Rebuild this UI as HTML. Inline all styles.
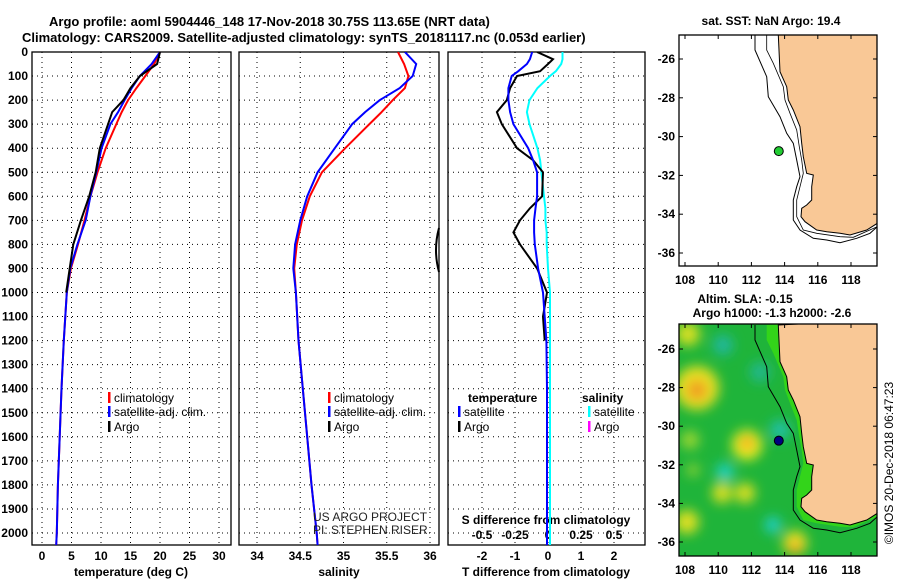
<!DOCTYPE html>
<html><head><meta charset="utf-8"><style>
html,body{margin:0;padding:0;background:#fff;}
svg{display:block;font-family:"Liberation Sans",sans-serif;}
.b{font-weight:bold;font-size:13px;}
.t{font-weight:bold;font-size:12px;}
</style></head><body>
<svg id="chart" width="900" height="580" viewBox="0 0 900 580">
<defs>
<filter id="blur" x="-50%" y="-50%" width="200%" height="200%"><feGaussianBlur stdDeviation="6"/></filter>
<clipPath id="m2clip"><rect x="679" y="324" width="198" height="232"/></clipPath>
<clipPath id="m1clip"><rect x="679" y="35" width="198" height="231"/></clipPath>
<clipPath id="p1"><rect x="32" y="52" width="199" height="493"/></clipPath>
<clipPath id="p2"><rect x="239" y="52" width="200" height="493"/></clipPath>
<clipPath id="p3"><rect x="448" y="52" width="197" height="493"/></clipPath>
</defs>
<text class="b" x="49" y="26">Argo profile: aoml 5904446_148 17-Nov-2018 30.75S 113.65E (NRT data)</text>
<text class="b" x="22" y="42">Climatology: CARS2009. Satellite-adjusted climatology: synTS_20181117.nc (0.053d earlier)</text>
<g id="g"></g>
</svg>
<script>
// ---- data ----
const pLev = [0,50,100,150,200,250,300,400,500,600,700,800,900,1000,1200,1400,1600,1800,2000,2050];
const tClim = [20,19,17.5,16,14.6,13.5,12.6,10.8,9.4,8.2,7.2,6.1,4.9,4.2,3.7,3.3,3.0,2.7,2.5,2.4];
const tSat  = [20,18.6,16.6,15.2,14,12.9,11.6,10.1,9.2,8.2,7.4,6.0,4.8,4.2,3.7,3.3,3.0,2.7,2.5,2.4];
const tArgo = [20,19.5,16.6,15,13.8,11.9,11.2,9.8,9.1,8.0,6.6,5.3,4.7,4.1,3.6,3.3,3.0,2.7,2.5,2.4];
const sClim = [35.63,35.7,35.75,35.71,35.57,35.44,35.3,35.02,34.75,34.61,34.52,34.46,34.43,34.45,34.48,34.53,34.58,34.63,34.69,34.7];
const sSat  = [35.71,35.84,35.8,35.65,35.42,35.25,35.1,34.9,34.7,34.58,34.5,34.44,34.42,34.45,34.48,34.53,34.58,34.63,34.69,34.7];
const dLev  = [0,30,50,80,100,150,200,250,300,400,450,500,600,650,700,750,800,900,1000,1100,1200,1400,1600,1800,2000,2050];
const dTArgo= [-0.33,0.15,0,-0.24,-0.94,-1.15,-1.25,-1.55,-1.4,-0.94,-0.45,-0.15,-0.18,-0.55,-0.85,-1.05,-0.85,-0.33,-0.03,-0.15,-0.1,-0.05,-0.05,-0.05,-0.05,-0.05];
const dTSat = [-0.48,-0.55,-0.64,-0.9,-1.1,-1.2,-1.2,-1.15,-1.05,-0.6,-0.45,-0.33,-0.33,-0.38,-0.42,-0.42,-0.4,-0.3,-0.15,-0.1,-0.05,-0.03,-0.03,-0.03,-0.03,-0.03];
const dSSat = [0.11,0.11,0.1,0.06,0.015,-0.08,-0.14,-0.16,-0.14,-0.08,-0.06,-0.05,-0.03,-0.02,-0.02,-0.01,-0.01,0,0.015,0.015,0.015,0.015,0.015,0.015,0.015,0.015];
const pTicks = [0,100,200,300,400,500,600,700,800,900,1000,1100,1200,1300,1400,1500,1600,1700,1800,1900,2000];
const tTicks = [0,5,10,15,20,25,30];
const sTicks = [34,34.5,35,35.5,36];
const dTTicks = [-2,-1,0,1,2];
const dSTicks = ['-0.5','-0.25','0','0.25','0.5'];
const latTicks = [-26,-28,-30,-32,-34,-36];
const lonTicks = [108,110,112,114,116,118];
const argoLon = 113.65, argoLat = -30.75;

const NS='http://www.w3.org/2000/svg';
const G=document.getElementById('g');
function el(tag,attrs,parent){const e=document.createElementNS(NS,tag);for(const k in attrs)e.setAttribute(k,attrs[k]);(parent||G).appendChild(e);return e;}
function txt(x,y,s,cls,anchor,parent){const e=el('text',{x:x,y:y,class:cls||'t','text-anchor':anchor||'middle'},parent);e.textContent=s;return e;}
const yP=p=>52+p*0.2405;
const xT=t=>42+t*5.9;
const xS=s=>257+(s-34)*86.5;
const xDT=d=>548+d*33;
const xDS=d=>548+d*132;
const xLon=l=>685+(l-108)*16.6;
const yLat1=l=>59+(-26-l)*19.4;
const yLat2=l=>349+(-26-l)*19.3;

function frame(x,y,w,h,name){const r=el('rect',{x:x,y:y,width:w,height:h,fill:'none',stroke:'#000','stroke-width':1.3});

}
function vgrid(x,name){const l=el('line',{x1:x,x2:x,y1:52,y2:545,stroke:'#000','stroke-width':1,'stroke-dasharray':'1,4'});

}
function hgrid(x1,x2){pTicks.forEach(p=>{const l=el('line',{x1:x1,x2:x2,y1:yP(p),y2:yP(p),stroke:'#000','stroke-width':1,'stroke-dasharray':'1,4'});

});}
function line(xs,ps,fx,color,name,clip){const d=xs.map((v,i)=>(i?'L':'M')+fx(v).toFixed(1)+','+yP(ps[i]).toFixed(1)).join('');
const e=el('path',{d:d,fill:'none',stroke:color,'stroke-width':2,'clip-path':'url(#'+clip+')'});

}

hgrid(32,231);hgrid(239,439);hgrid(448,645);
tTicks.forEach(t=>vgrid(xT(t),'temperature-gridline'));
sTicks.forEach(s=>vgrid(xS(s),'salinity-gridline'));
dTTicks.forEach(t=>vgrid(xDT(t),'tdiff-gridline'));
frame(32,52,199,493,'temperature-panel');frame(239,52,200,493,'salinity-panel');frame(448,52,197,493,'difference-panel');
pTicks.forEach(p=>{const e=txt(28,yP(p)+4,String(p),'t','end');

});
tTicks.forEach(t=>{const e=txt(xT(t),560,String(t),'t');

});
sTicks.forEach(s=>{const e=txt(xS(s),560,String(s),'t');

});
dTTicks.forEach(t=>{const e=txt(xDT(t),560,String(t),'t');

});
dSTicks.forEach(s=>{const e=txt(xDS(parseFloat(s)),539,s,'t');

});
let e;
e=txt(131,576,'temperature (deg C)');
e=txt(339,576,'salinity');
e=txt(546,576,'T difference from climatology');
e=txt(546,524,'S difference from climatology');

line(tClim,pLev,xT,'#f00','temperature-climatology','p1');
line(tSat,pLev,xT,'#00f','temperature-satellite','p1');
line(tArgo.slice(0,14),pLev.slice(0,14),xT,'#000','temperature-argo','p1');
line(sClim,pLev,xS,'#f00','salinity-climatology','p2');
line(sSat,pLev,xS,'#00f','salinity-satellite','p2');
e=el('path',{d:'M439,228 Q433,250 439,272',fill:'none',stroke:'#000','stroke-width':2});

line(dSSat,dLev,xDS,'#0ff','sdiff-satellite','p3');
line(dTArgo.slice(0,21),dLev.slice(0,21),xDT,'#000','tdiff-argo','p3');
line(dTSat,dLev,xDT,'#00f','tdiff-satellite','p3');

function leg(x,y,c,s,name){const r=el('rect',{x:x,y:y-10,width:2.5,height:11,fill:c});


const t=el('text',{x:x+6,y:y,'font-size':12,'text-anchor':'start'});t.textContent=s;

}
leg(108,402,'#f00','climatology','legend-climatology');
leg(108,416,'#00f','satellite-adj. clim.','legend-satellite');
leg(108,431,'#000','Argo','legend-argo');
leg(328,402,'#f00','climatology','legend-s-climatology');
leg(328,416,'#00f','satellite-adj. clim.','legend-s-satellite');
leg(328,431,'#000','Argo','legend-s-argo');
e=txt(468,402,'temperature','t','start');
e=txt(582,402,'salinity','t','start');
leg(458,416,'#00f','satellite','legend-t-satellite');
leg(458,431,'#000','Argo','legend-t-argo');
leg(588,416,'#0ff','satellite','legend-s-sat');
leg(588,431,'#f0f','Argo','legend-s-argo2');
e=el('text',{x:313,y:521,'font-size':12,'text-anchor':'start',fill:'#222'});e.textContent='US ARGO PROJECT';

e=el('text',{x:313,y:534,'font-size':12,'text-anchor':'start',fill:'#222'});e.textContent='PI: STEPHEN RISER';


// maps
const coast=[[415,105],[420,215],[440,260],[445,300],[460,330],[480,380],[485,430],[490,470],[500,520],[520,525],[515,560],[515,600],[500,615],[485,625],[483,650],[495,665],[530,690],[560,695],[600,700],[630,705],[680,690],[712,670]];
const outer=[[345,105],[345,150],[380,230],[385,290],[420,350],[440,400],[460,430],[470,480],[480,530],[470,560],[460,600],[460,660],[480,690],[520,715],[560,720],[600,728],[650,715],[690,700],[712,680]];
const inner=[[380,105],[380,150],[400,190],[430,260],[435,300],[450,340],[470,390],[478,440],[485,480],[490,520],[480,560],[470,600],[470,650],[490,690],[530,700],[600,710],[640,712],[712,680]];
const pt=(p,dy)=>(640+p[0]/3).toFixed(1)+','+(p[1]/3+dy).toFixed(1);

const m2=el('g',{'clip-path':'url(#m2clip)'});
const bg=el('rect',{x:679,y:324,width:198,height:232,fill:'#1fb43a'},m2);


const blobs=el('g',{filter:'url(#blur)'},m2);
[[688,334,12,'#d8e020'],[697,388,22,'#e8e020'],[697,390,10,'#f09a20'],[747,445,15,'#f0f020'],[747,443,7,'#f0a020'],[725,472,9,'#20d0c0'],[722,493,10,'#e0e020'],[745,493,10,'#e0e020'],[687,522,12,'#e0e020'],[795,543,12,'#f0e020'],[795,548,6,'#f09a20'],[773,525,8,'#20d0d0'],[723,345,10,'#20b8a0'],[780,430,10,'#20c0a8'],[760,372,10,'#20b890'],[690,440,9,'#a0d830'],[693,470,6,'#a0d830']].forEach(b=>{
  const c=el('circle',{cx:b[0],cy:b[1],r:b[2],fill:b[3]},blobs);
  
  
});
const shelf=el('path',{d:'M'+inner.map(p=>pt(p,290)).join('L')+'L880,600L880,320Z',fill:'#33d41a'},m2);



function mapLayer(dy,clip,withInner){
  const g=el('g',{'clip-path':'url(#'+clip+')'});
  const land=el('path',{d:'M'+coast.map(p=>pt(p,dy)).join('L')+'L880,'+(dy+240)+'L880,'+(dy+30)+'Z',fill:'#f9c896',stroke:'#000','stroke-width':1},g);
  
  
  const o=el('path',{d:'M'+outer.map(p=>pt(p,dy)).join('L'),fill:'none',stroke:'#000','stroke-width':1},g);
  
  
  if(withInner){
    const i=el('path',{d:'M'+inner.map(p=>pt(p,dy)).join('L'),fill:'none',stroke:'#000','stroke-width':0.8},g);
    
    
  }
}
mapLayer(0,'m1clip',true);
mapLayer(290,'m2clip',false);
frame(679,35,198,231,'sst-map-frame');
frame(679,324,198,232,'sla-map-frame');
function mapTicks(yLat,top,bottom,name){
  latTicks.forEach(l=>{const t=txt(675,yLat(l)+4,String(l),'t','end');
  
  
  el('line',{x1:679,x2:683,y1:yLat(l),y2:yLat(l),stroke:'#000'});
  el('line',{x1:873,x2:877,y1:yLat(l),y2:yLat(l),stroke:'#000'});});
  lonTicks.forEach(l=>{const t=txt(xLon(l),bottom+18,String(l),'t');
  
  
  el('line',{x1:xLon(l),x2:xLon(l),y1:top,y2:top+4,stroke:'#000'});
  el('line',{x1:xLon(l),x2:xLon(l),y1:bottom-4,y2:bottom,stroke:'#000'});});
}
mapTicks(yLat1,35,266,'sst-map');
mapTicks(yLat2,324,556,'sla-map');
e=el('circle',{cx:xLon(argoLon),cy:yLat1(argoLat),r:4.5,fill:'#22cc33',stroke:'#000','stroke-width':1});

e=el('circle',{cx:xLon(argoLon),cy:yLat2(argoLat),r:4.5,fill:'#000080',stroke:'#000','stroke-width':1});

e=txt(771,25,'sat. SST: NaN Argo: 19.4');
e=txt(745,303,'Altim. SLA: -0.15');
e=txt(772,317,'Argo h1000: -1.3 h2000: -2.6');
e=el('text',{x:0,y:0,'font-size':12,'text-anchor':'middle',transform:'translate(893,463) rotate(-90)'});e.textContent='©IMOS 20-Dec-2018 06:47:23';

</script>
</body></html>
